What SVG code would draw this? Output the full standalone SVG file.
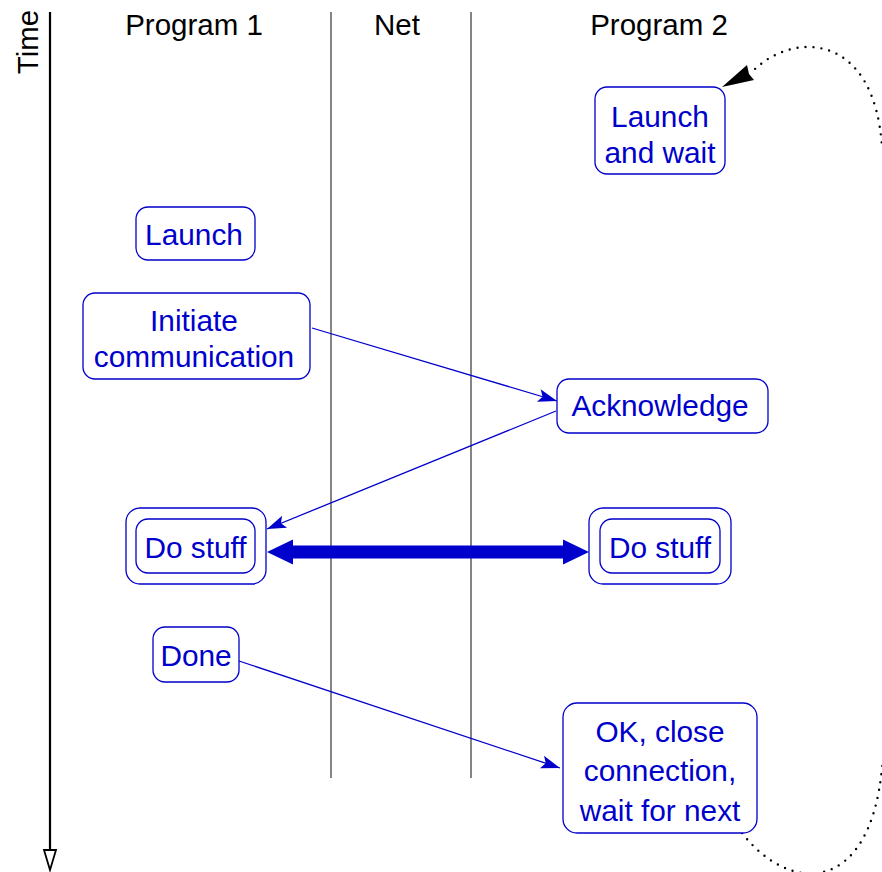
<svg xmlns="http://www.w3.org/2000/svg" width="882" height="872" viewBox="0 0 882 872">
<style>
.hdr{font-family:"Liberation Sans",Arial,sans-serif;font-size:29.5px;fill:#000;text-anchor:middle}
.lbl{font-family:"Liberation Sans",Arial,sans-serif;font-size:29.8px;fill:#0000cc;text-anchor:middle}
.box{fill:#fff;stroke:#0000cc;stroke-width:1.3}
.conn{stroke:#0000cc;stroke-width:1.3;fill:none}
.lane{stroke:#333;stroke-width:1.2}
</style>
<defs>
<marker id="ah" markerUnits="userSpaceOnUse" markerWidth="24" markerHeight="16" viewBox="-20 -8 22 16" refX="0" refY="0" orient="auto">
<path d="M0,0 L-19,-6.5 L-15,0 L-19,6.5 Z" fill="#0000cc"/>
</marker>
</defs>
<rect width="882" height="872" fill="#fff"/>
<g id="time-axis">
<line x1="50" y1="12" x2="50" y2="850" stroke="#000" stroke-width="2.2"/>
<polygon points="44,850 56,850 50,870" fill="#fff" stroke="#000" stroke-width="1.8"/>
<text class="hdr" transform="translate(38,42) rotate(-90)">Time</text>
</g>
<g id="lanes">
<line class="lane" x1="331" y1="12" x2="331" y2="778"/>
<line class="lane" x1="471" y1="12" x2="471" y2="778"/>
<text class="hdr" x="194" y="35">Program 1</text>
<text class="hdr" x="397" y="35">Net</text>
<text class="hdr" x="659" y="35">Program 2</text>
</g>
<g id="connectors">
<line class="conn" x1="312" y1="328" x2="557" y2="401" marker-end="url(#ah)"/>
<line class="conn" x1="556" y1="411" x2="267" y2="529" marker-end="url(#ah)"/>
<line x1="290" y1="552" x2="566" y2="552" stroke="#0000cc" stroke-width="13"/>
<polygon points="267,552 293,539.5 293,564.5" fill="#0000cc"/>
<polygon points="589,552 563,539.5 563,564.5" fill="#0000cc"/>
<line class="conn" x1="239" y1="661" x2="560" y2="768" marker-end="url(#ah)"/>
<path d="M742,833 C790,895 870,895 882,768 C935,450 930,200 882,148 C875,30 790,30 750,74" fill="none" stroke="#000" stroke-width="2.4" stroke-linecap="round" stroke-dasharray="0 8"/>
<polygon points="722,87 747,65 749,74 754,80" fill="#000"/>
</g>
<g id="launch-and-wait">
<rect class="box" x="595" y="87" width="130" height="87" rx="12"/>
<text class="lbl" x="660" y="127">Launch</text>
<text class="lbl" x="660" y="163">and wait</text>
</g>
<g id="launch">
<rect class="box" x="136" y="207" width="119" height="53" rx="12"/>
<text class="lbl" x="194" y="245">Launch</text>
</g>
<g id="initiate">
<rect class="box" x="83" y="293" width="227" height="86" rx="12"/>
<text class="lbl" x="194" y="331">Initiate</text>
<text class="lbl" x="194" y="367">communication</text>
</g>
<g id="acknowledge">
<rect class="box" x="557" y="379" width="211" height="54" rx="12"/>
<text class="lbl" x="660" y="416">Acknowledge</text>
</g>
<g id="do-stuff-1">
<rect class="box" x="126" y="508" width="140" height="76" rx="14"/>
<rect class="box" x="136" y="519" width="119" height="54" rx="12"/>
<text class="lbl" x="195.5" y="558">Do stuff</text>
</g>
<g id="do-stuff-2">
<rect class="box" x="589" y="508" width="142" height="76" rx="14"/>
<rect class="box" x="600" y="519" width="120" height="54" rx="12"/>
<text class="lbl" x="660" y="558">Do stuff</text>
</g>
<g id="done">
<rect class="box" x="153" y="627" width="86" height="55" rx="12"/>
<text class="lbl" x="196" y="666">Done</text>
</g>
<g id="ok-close">
<rect class="box" x="563" y="703" width="194" height="130" rx="14"/>
<text class="lbl" x="660" y="742">OK, close</text>
<text class="lbl" x="660" y="781">connection,</text>
<text class="lbl" x="660" y="821">wait for next</text>
</g>
</svg>
